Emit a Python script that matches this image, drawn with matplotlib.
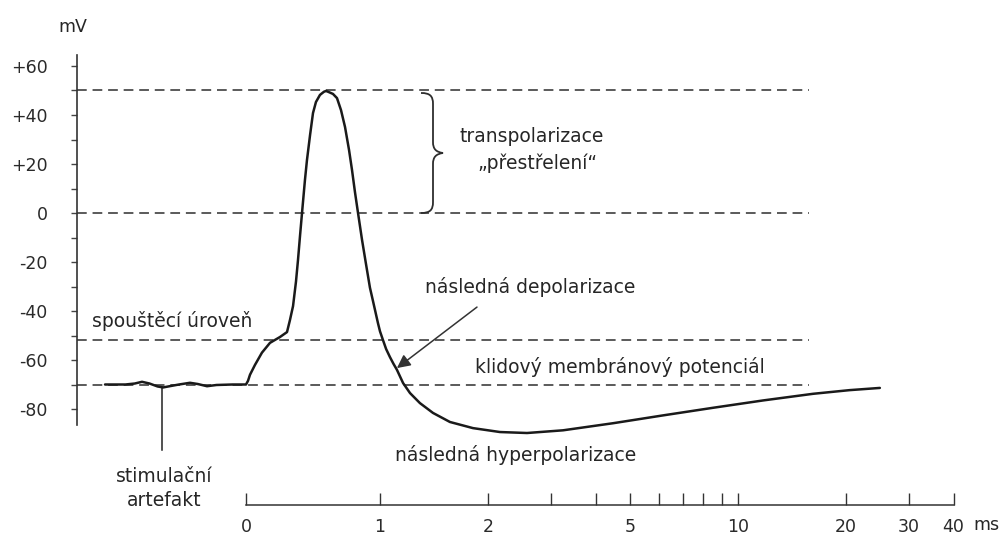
import numpy as np
import matplotlib
matplotlib.use("Agg")
import matplotlib.pyplot as plt
from matplotlib.path import Path
from matplotlib.patches import PathPatch, FancyArrowPatch
from matplotlib.transforms import Affine2D

# ---------------- data ----------------
time_ms = [-1.052, -0.90, -0.83, -0.776, -0.72, -0.66, -0.619, -0.57, -0.50, -0.418,
           -0.36, -0.291, -0.22, -0.10, 0.0,
           0.015, 0.030, 0.067, 0.119, 0.179, 0.254, 0.306, 0.328, 0.351, 0.373,
           0.388, 0.403, 0.418, 0.440, 0.455, 0.478, 0.500, 0.522, 0.552, 0.582,
           0.597, 0.612, 0.649, 0.679, 0.709, 0.739, 0.769, 0.791, 0.813, 0.836,
           0.866, 0.896, 0.925, 0.948, 0.985, 1.0,
           1.019, 1.040, 1.066, 1.090, 1.115, 1.160, 1.213, 1.293, 1.406, 1.568,
           1.818, 2.163, 2.574, 3.245, 4.48, 6.18, 8.52, 11.76, 16.2, 20.5, 24.9]
voltage_mv = [-70, -70, -69.6, -68.9, -69.6, -70.8, -71.2, -70.7, -70.0, -69.3,
              -69.8, -70.7, -70.2, -70, -70,
              -68.5, -66, -62, -57, -53, -50.6, -48.6, -43.7, -38, -28,
              -19.2, -9.4, 0, 13.5, 21.6, 31.8, 40.8, 45.3, 48.2, 49.5,
              49.8, 49.5, 48.6, 46.9, 42, 35.1, 25.7, 17.6, 8.6, 0,
              -11, -21, -30.5, -36, -45, -48.3,
              -51.8, -55.5, -58.8, -61.5, -64, -69.4, -73.5, -77.6, -81.6, -85.3,
              -87.8, -89.4, -89.8, -88.7, -85.8, -82.6, -79.5, -76.5, -73.8, -72.3, -71.4]

y_ticks = [60, 40, 20, 0, -20, -40, -60, -80]
y_tick_labels = ["+60", "+40", "+20", "0", "-20", "-40", "-60", "-80"]
y_minor_ticks = [50, 30, 10, -10, -30, -50, -70]

time_ticks = [0, 1, 2, 3, 4, 5, 6, 7, 8, 9, 10, 20, 30, 40]
time_tick_labels = ["0", "1", "2", "", "", "5", "", "", "", "", "10", "20", "30", "40"]

overshoot_level = 50
zero_level = 0
threshold_level = -52
resting_level = -70
artifact_time = -0.627
dashed_end_time = 15.8

# ---------------- scale ----------------
K0, KD = 134.0, 358.0


def fwd(t):
    t = np.asarray(t, dtype=float)
    return np.where(t < 1, t * K0, K0 + KD * np.log10(np.maximum(t, 1.0)))


def inv(u):
    u = np.asarray(u, dtype=float)
    return np.where(u < K0, u / K0, 10 ** ((np.maximum(u, K0) - K0) / KD))


W, H = 1002, 544
fig = plt.figure(figsize=(W / 100, H / 100), dpi=100)
fig.patch.set_facecolor("white")

# main axes: spine from px x=77, y 55..425
ax = fig.add_axes([77 / W, (H - 425) / H, 923 / W, 370 / H])
ax.set_xscale("function", functions=(fwd, inv))
ax.set_xlim(-169 / K0, 10 ** ((754 - K0) / KD))
ax.set_ylim((213 - 425) / 2.45, (213 - 55) / 2.45)
for s in ["top", "right", "bottom"]:
    ax.spines[s].set_visible(False)
ax.spines["left"].set_color("#333333")
ax.spines["left"].set_linewidth(1.2)
ax.set_xticks([])
ax.set_yticks(y_ticks)
ax.set_yticklabels(y_tick_labels)
ax.set_yticks(y_minor_ticks, minor=True)
ax.tick_params(axis="y", which="both", direction="out", length=4.5, width=1,
               color="#444444")
ax.tick_params(axis="y", which="major", pad=16.5, labelsize=12.5,
               labelcolor="#2a2a2a")
ax.patch.set_alpha(0)

dash = (0, (5, 3))
dcol = "#5a5a5a"
x_left = ax.get_xlim()[0]
for lvl in [overshoot_level, zero_level, threshold_level, resting_level]:
    ax.plot([x_left, dashed_end_time], [lvl, lvl], linestyle=dash, color=dcol,
            lw=1.4, zorder=1)

ax.plot(time_ms, voltage_mv, color="#1a1a1a", lw=1.8, clip_on=False, zorder=3,
        solid_joinstyle="round", solid_capstyle="round")

# stimulation artifact marker
ax.plot([artifact_time, artifact_time], [-71, -96.7], color="#222222", lw=1.1,
        clip_on=False)

# arrow to afterdepolarization
arr = FancyArrowPatch((1.866, -38.4), (1.115, -63.3), arrowstyle="-|>",
                      mutation_scale=20, lw=1.1, color="#333333",
                      shrinkA=0, shrinkB=0, clip_on=False)
ax.add_patch(arr)

# ---------------- time axis ----------------
ax2 = fig.add_axes([77 / W, (H - 505) / H, 923 / W, 0.001])
ax2.set_xscale("function", functions=(fwd, inv))
ax2.set_xlim(ax.get_xlim())
ax2.patch.set_alpha(0)
for s in ["top", "right", "left"]:
    ax2.spines[s].set_visible(False)
ax2.spines["bottom"].set_bounds(0, 40)
ax2.spines["bottom"].set_color("#333333")
ax2.spines["bottom"].set_linewidth(1.1)
ax2.set_yticks([])
ax2.set_xticks(time_ticks)
ax2.set_xticklabels(time_tick_labels)
ax2.xaxis.set_minor_locator(matplotlib.ticker.NullLocator())
ax2.tick_params(axis="x", direction="in", length=8.5, width=1, color="#333333",
                pad=9.5, labelsize=12.5, labelcolor="#2a2a2a")

# ---------------- texts ----------------
tc = "#262626"
fs = 13.5


def ftext(x, y, s, **kw):
    kw.setdefault("va", "center")
    kw.setdefault("fontsize", fs)
    kw.setdefault("color", tc)
    fig.text(x / W, 1 - y / H, s, **kw)


ftext(73, 27, "mV", ha="center", fontsize=12.5)
ftext(460, 137, "transpolarizace", ha="left")
ftext(477, 163, "„přestřelení“", ha="left")
ftext(425, 287, "následná depolarizace", ha="left")
ftext(92, 321, "spouštěcí úroveň", ha="left")
ftext(475, 367, "klidový membránový potenciál", ha="left")
ftext(395, 455, "následná hyperpolarizace", ha="left")
ftext(164, 476, "stimulační", ha="center")
ftext(164, 501, "artefakt", ha="center")
ftext(973, 525, "ms", ha="left", fontsize=12.5)

# brace (figure pixel coordinates, y downward)
tr = Affine2D().scale(1 / W, -1 / H).translate(0, 1) + fig.transFigure
verts = [(421, 93), (430, 93), (433, 96), (433, 104),
         (433, 142),
         (433, 149), (436, 152), (443, 153),
         (436, 154), (433, 157), (433, 164),
         (433, 202),
         (433, 210), (430, 213), (421, 213)]
codes = [Path.MOVETO, Path.CURVE4, Path.CURVE4, Path.CURVE4,
         Path.LINETO,
         Path.CURVE4, Path.CURVE4, Path.CURVE4,
         Path.CURVE4, Path.CURVE4, Path.CURVE4,
         Path.LINETO,
         Path.CURVE4, Path.CURVE4, Path.CURVE4]
brace = PathPatch(Path(verts, codes), transform=tr, fill=False, lw=1.3,
                  edgecolor="#2e2e2e")
fig.add_artist(brace)

fig.savefig("out.png", dpi=100, facecolor="white")
